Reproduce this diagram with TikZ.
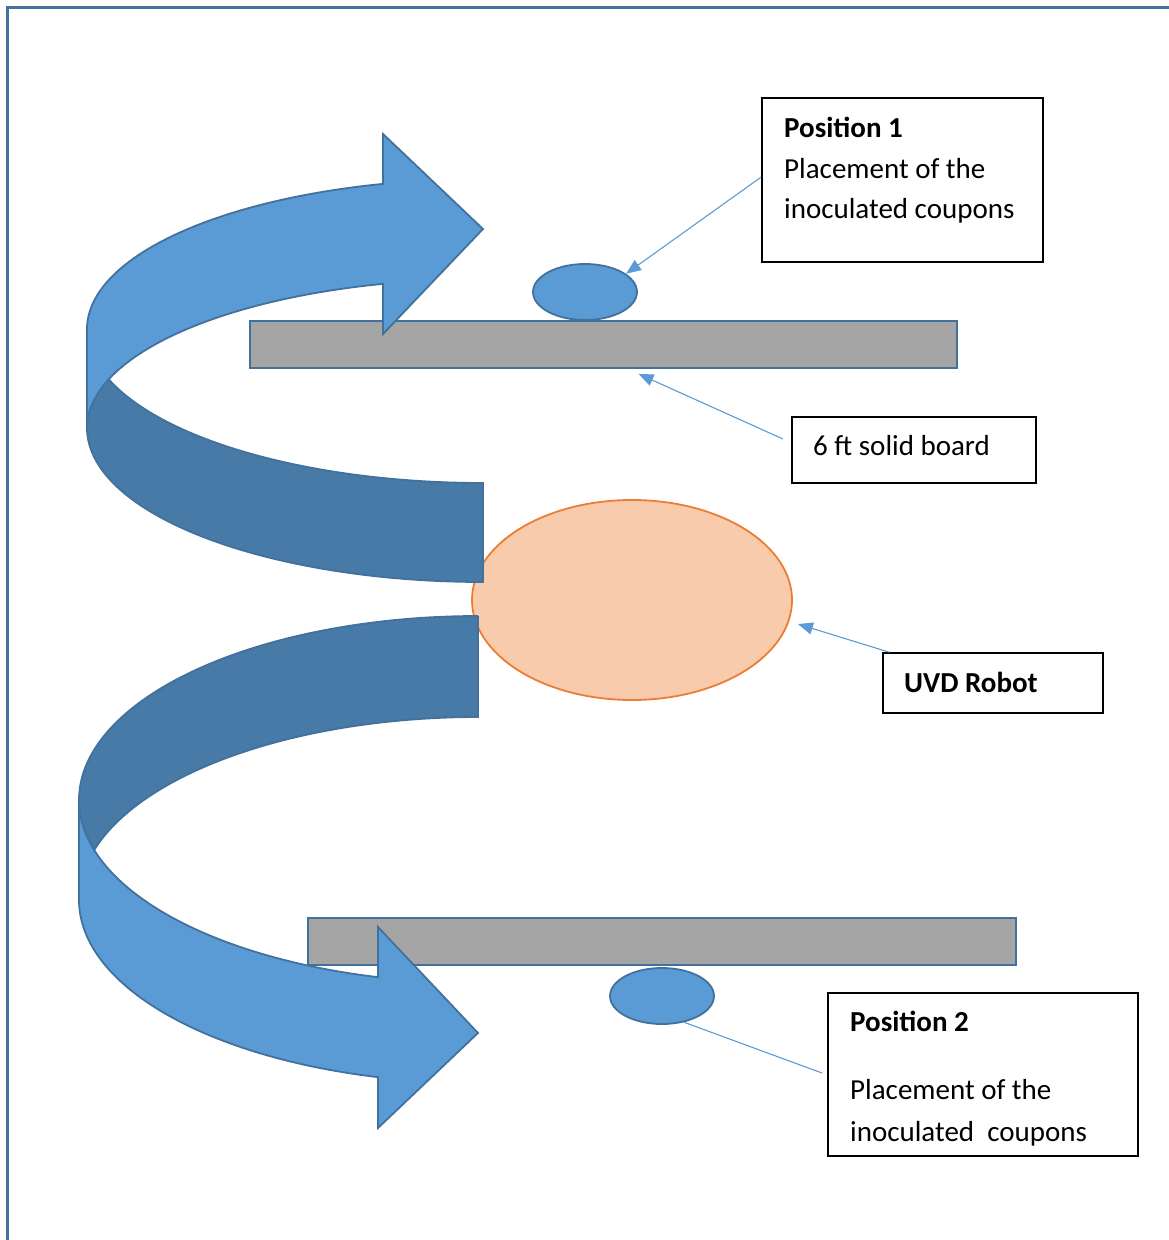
\documentclass[tikz,border=0pt]{standalone}
\usepackage{fontspec}
\setmainfont{Carlito}
\usetikzlibrary{shapes.geometric,arrows.meta}
\definecolor{lightblue}{HTML}{5B9BD5}
\definecolor{darkblue}{HTML}{477AA7}
\definecolor{edgeblue}{HTML}{41719C}
\definecolor{boardgray}{HTML}{A5A5A5}
\definecolor{robotfill}{HTML}{F8CBAD}
\definecolor{robotedge}{HTML}{ED7D31}
\definecolor{frameblue}{HTML}{44729F}
\begin{document}
\begin{tikzpicture}[x=1pt,y=-1pt,
  frameline/.style={draw=frameblue,line width=3pt},
  board/.style={rectangle,draw=edgeblue,fill=boardgray,line width=1.8pt,inner sep=0pt,minimum height=47pt},
  coupon/.style={ellipse,draw=edgeblue,fill=lightblue,line width=1.8pt,inner sep=0pt,minimum width=104pt,minimum height=56pt},
  robotshape/.style={ellipse,draw=robotedge,fill=robotfill,line width=1.8pt,inner sep=0pt,minimum width=320pt,minimum height=200pt},
  ribbonlight/.style={fill=lightblue,draw=edgeblue,line width=1.8pt,line join=miter},
  ribbondark/.style={fill=darkblue,draw=edgeblue,line width=1.8pt,line join=miter},
  textbox/.style={rectangle,draw=black,line width=1.6pt,inner sep=0pt},
  lbl/.style={anchor=base west,inner sep=0pt,font=\fontsize{29}{35}\selectfont},
  conn/.style={draw=lightblue,line width=1.1pt},
  connarrow/.style={conn,-{Triangle[length=15pt,width=12pt]}}
]
\useasboundingbox (0,0) rectangle (1168,1240);
% page frame
\draw[frameline] (7,1250) -- (7,7) -- (1180,7);

% boards and coupons
\node[board,minimum width=707pt] (board1) at (603.5,344.5) {};
\node[coupon] (coupon1) at (585,292) {};
\node[board,minimum width=708pt] (board2) at (662,941.5) {};
\node[coupon] (coupon2) at (662,996) {};

% robot
\node[robotshape] (robot) at (632,600) {};

% upper spiral arrow
\filldraw[ribbondark] (483,483) -- (483,582)
  -- plot[domain=90:180,samples=80] ({483+396*cos(\x)},{428+154*sin(\x)})
  -- (87,329)
  -- plot[domain=180:90,samples=80] ({483+396*cos(\x)},{329+154*sin(\x)})
  -- cycle;
\filldraw[ribbonlight] (87,428) -- (87,329)
  -- plot[domain=180:104.63,samples=80] ({483+396*cos(\x)},{329-150*sin(\x)})
  -- (383,134) -- (483,229) -- (383,334) -- (383,284)
  -- plot[domain=104.63:180,samples=80] ({483+396*cos(\x)},{428-149*sin(\x)})
  -- cycle;

% lower spiral arrow
\filldraw[ribbondark] (478,616) -- (478,717)
  -- plot[domain=90:180,samples=80] ({478+399*cos(\x)},{900-183*sin(\x)})
  -- (79,800)
  -- plot[domain=180:90,samples=80] ({478+399*cos(\x)},{800-184*sin(\x)})
  -- cycle;
\filldraw[ribbonlight] (79,800) -- (79,900)
  -- plot[domain=180:104.51,samples=80] ({478+399*cos(\x)},{900+183*sin(\x)})
  -- (378,1128) -- (478,1033) -- (378,927) -- (378,977)
  -- plot[domain=104.51:180,samples=80] ({478+399*cos(\x)},{800+183*sin(\x)})
  -- cycle;

% text boxes
\node[textbox,minimum width=281pt,minimum height=164pt] (pos1) at (902.5,180) {};
\node[textbox,minimum width=244pt,minimum height=66pt] (board) at (914,450) {};
\node[textbox,minimum width=220pt,minimum height=60pt] (uvd) at (993,683) {};
\node[textbox,minimum width=310pt,minimum height=163pt] (pos2) at (983,1074.5) {};

\node[lbl,font=\fontsize{29}{35}\selectfont\bfseries] (p1t) at (784,137) {Position 1};
\node[lbl] (p1a) at (784,178) {Placement of the};
\node[lbl] (p1b) at (784,218) {inoculated coupons};
\node[lbl] (bt) at (813,455) {6 ft solid board};
\node[lbl,font=\fontsize{29}{35}\selectfont\bfseries] (ut) at (904,692) {UVD Robot};
\node[lbl,font=\fontsize{29}{35}\selectfont\bfseries] (p2t) at (850,1031) {Position 2};
\node[lbl] (p2a) at (850,1099) {Placement of the};
\node[lbl] (p2b) at (850,1141) {inoculated\ \ coupons};

% connectors
\coordinate (bstart) at (783,439);
\coordinate (p2end) at (822,1073);
\draw[connarrow] ([yshift=3pt]pos1.west) -- (coupon1.24);
\draw[connarrow] (bstart) -- ([xshift=35pt,yshift=-5pt]board1.south);
\draw[connarrow] ([xshift=7pt]uvd.north west) -- ([xshift=5pt,yshift=-24pt]robot.east);
\draw[conn] (coupon2.-50) -- (p2end);
\end{tikzpicture}
\end{document}
